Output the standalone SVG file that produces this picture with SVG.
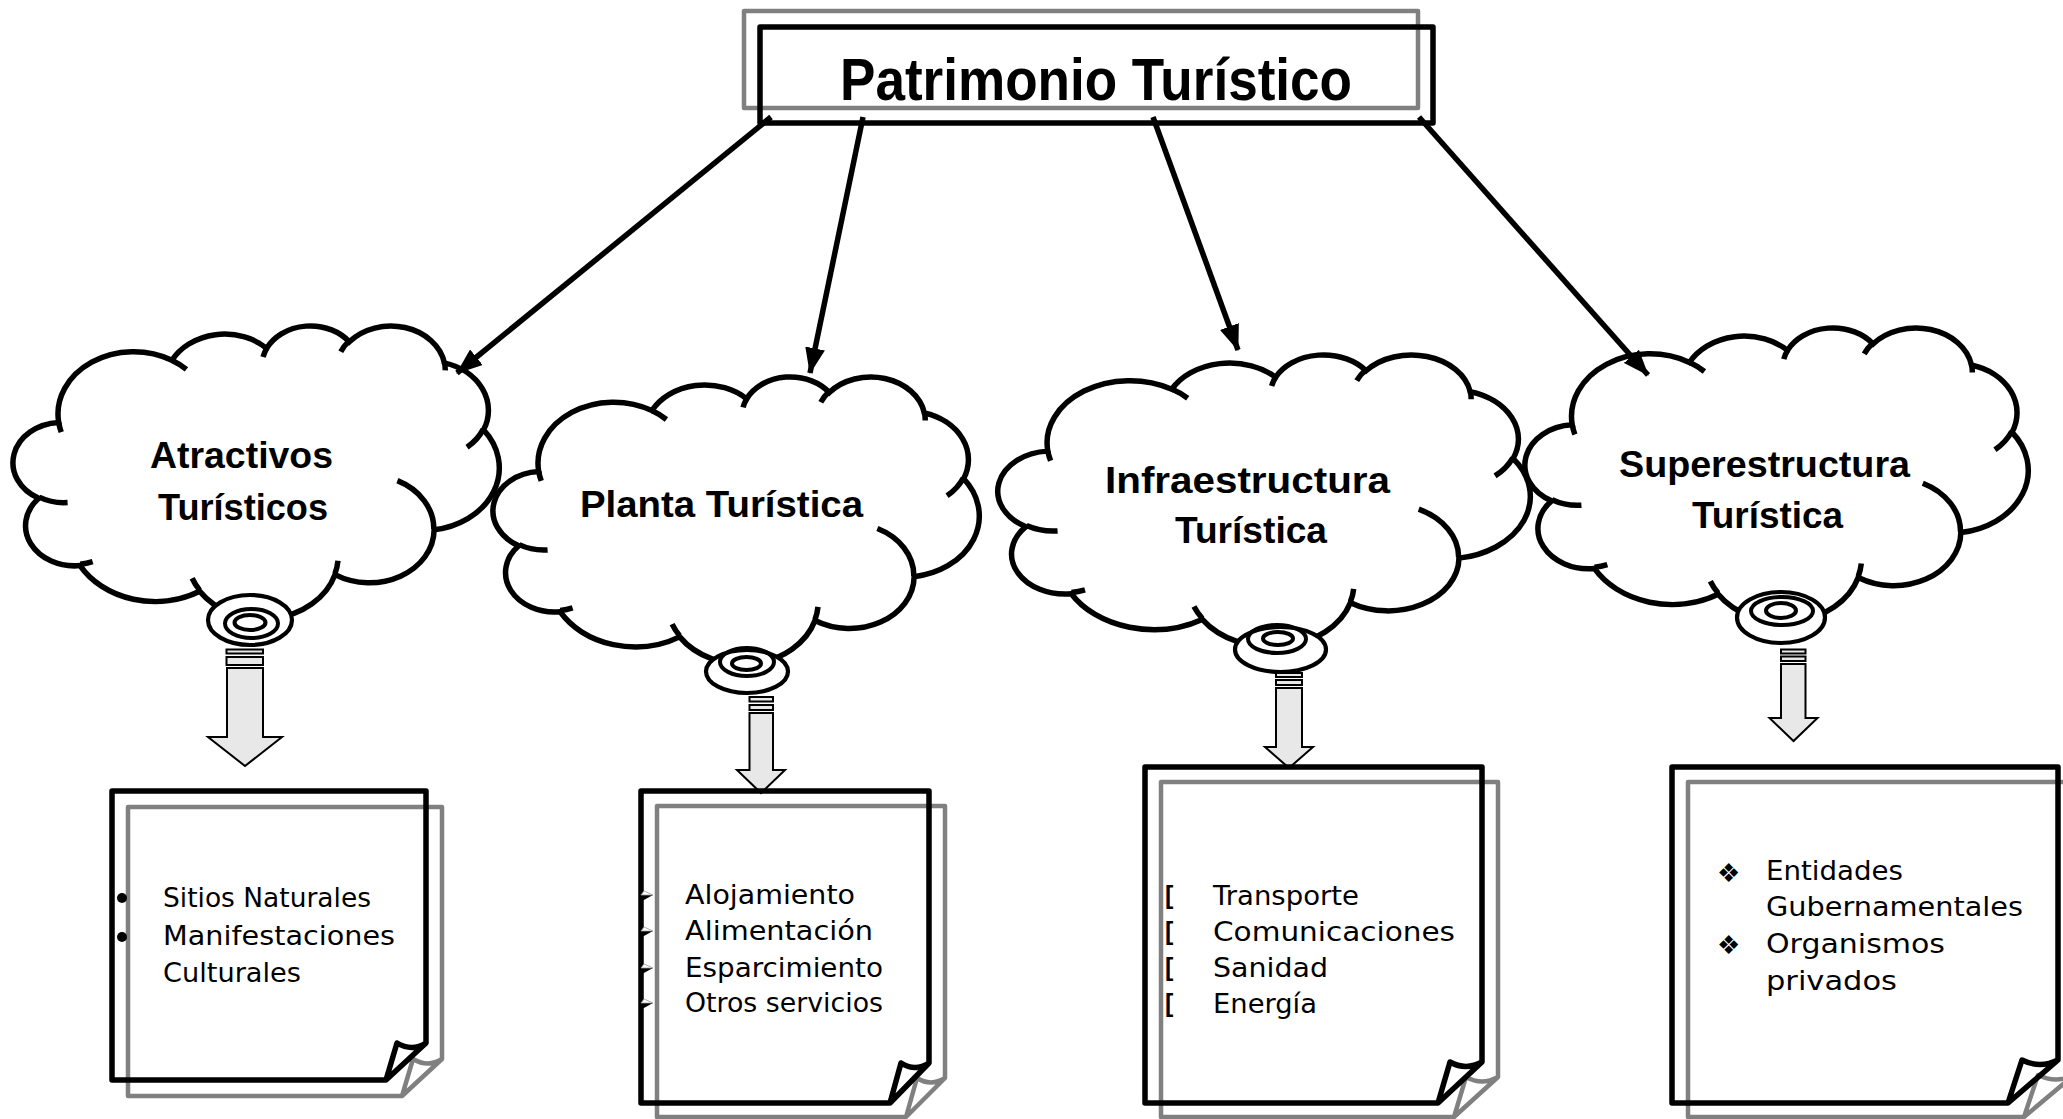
<svg xmlns="http://www.w3.org/2000/svg" width="2063" height="1119" viewBox="0 0 2063 1119">
<style>
  .bg{fill:#ffffff}
  .cloud{fill:#ffffff;stroke:#000;stroke-width:5.5}
  .cloudin{fill:none;stroke:#000;stroke-width:5.5}
  .ring{fill:#ffffff;stroke:#000;stroke-width:4.2}
  .ringin{fill:none;stroke:#000;stroke-width:4}
  .blk{fill:none;stroke:#000;stroke-width:5.5;stroke-linejoin:round}
  .gry{fill:none;stroke:#808080;stroke-width:4.5;stroke-linejoin:round}
  .conn{stroke:#000;stroke-width:5.5;fill:none}
  .barrow{fill:#e8e8e8;stroke:#000;stroke-width:2;stroke-linejoin:miter}
  .title{font-family:"Liberation Sans",Arial,sans-serif;font-weight:bold;font-size:60px;fill:#000}
  .ctext{font-family:"Liberation Sans",Arial,sans-serif;font-weight:bold;font-size:36px;fill:#000}
  .body{font-family:"DejaVu Sans","Liberation Sans",sans-serif;font-size:26px;fill:#000}
  .brk{font-family:"Liberation Sans",Arial,sans-serif;font-weight:bold;font-size:25px;fill:#000}
  .dia{font-family:"DejaVu Sans",sans-serif;font-size:26px;fill:#000}
</style>
<defs>
  <marker id="ah" markerUnits="userSpaceOnUse" markerWidth="26" markerHeight="20" refX="25" refY="10" orient="auto">
    <path d="M0,0 L26,10 L0,20 Z" fill="#000"/>
  </marker>
</defs>
<rect class="bg" x="0" y="0" width="2063" height="1119"/>

<g id="title">
  <rect class="gry" x="744" y="11" width="674" height="97"/>
  <rect class="blk" x="760" y="27" width="673" height="96"/>
  <text class="title" x="840" y="100" textLength="512" lengthAdjust="spacingAndGlyphs">Patrimonio Turístico</text>
</g>

<g id="cloud-atractivos">
  <g transform="translate(15,325) scale(1.1204,0.6782)">
    <path class="cloud" vector-effect="non-scaling-stroke" d="M39,143.7 A67.53,91.9 0 0 1 140.06,52.03 A53.33,72.67 0 0 1 224.6,34.32 A43.65,59.45 0 0 1 298.38,24.81 A48.57,65.95 0 0 1 383.24,55.76 A53.33,72.73 0 0 1 418.24,154.6 A67.75,92.2 0 0 1 374.09,302.01 A57.85,78.67 0 0 1 285.6,368.11 A67.52,92.15 0 0 1 164.85,392.65 A77.2,105.43 0 0 1 58.09,354.74 A43.6,59.18 0 0 1 21.19,255.51 A43.45,59.45 0 0 1 39,143.7 Z"/>
    <path class="cloudin" vector-effect="non-scaling-stroke" d="M46.93,261.77 A43.45,59.45 0 0 1 21.6,253.8 M69.28,348.99 A43.6,59.18 0 0 1 58.19,352.81 M164.78,390.9 A67.52,92.15 0 0 1 158.09,373.47 M288.27,347.51 A67.52,92.15 0 0 1 285.61,366.59 M341.29,229.54 A57.85,78.67 0 0 1 373.81,300.9 M417.98,153.54 A53.33,72.73 0 0 1 403.49,180.31 M383.24,54.26 A48.57,65.95 0 0 1 384,66.9 M290.78,39.52 A48.57,65.95 0 0 1 298.2,23.39 M221.41,47.2 A43.65,59.45 0 0 1 225,33.3 M140,51.92 A67.53,91.9 0 0 1 153,65.42 M41.27,157.89 A67.53,91.9 0 0 1 39,143.72"/>
  </g>
  <ellipse class="ring" cx="250" cy="620" rx="42" ry="25"/>
  <ellipse class="ringin" cx="251.5" cy="623.5" rx="26.5" ry="14.5"/>
  <ellipse class="ringin" cx="250" cy="622.5" rx="15.5" ry="7.5"/>
  <text class="ctext" x="150" y="468" textLength="183" lengthAdjust="spacingAndGlyphs">Atractivos</text>
  <text class="ctext" x="158" y="520" textLength="170" lengthAdjust="spacingAndGlyphs">Turísticos</text>
</g>

<g id="cloud-planta">
  <g transform="translate(495,376) scale(1.1204,0.6644)">
    <path class="cloud" vector-effect="non-scaling-stroke" d="M39,143.7 A67.53,91.9 0 0 1 140.06,52.03 A53.33,72.67 0 0 1 224.6,34.32 A43.65,59.45 0 0 1 298.38,24.81 A48.57,65.95 0 0 1 383.24,55.76 A53.33,72.73 0 0 1 418.24,154.6 A67.75,92.2 0 0 1 374.09,302.01 A57.85,78.67 0 0 1 285.6,368.11 A67.52,92.15 0 0 1 164.85,392.65 A77.2,105.43 0 0 1 58.09,354.74 A43.6,59.18 0 0 1 21.19,255.51 A43.45,59.45 0 0 1 39,143.7 Z"/>
    <path class="cloudin" vector-effect="non-scaling-stroke" d="M46.93,261.77 A43.45,59.45 0 0 1 21.6,253.8 M69.28,348.99 A43.6,59.18 0 0 1 58.19,352.81 M164.78,390.9 A67.52,92.15 0 0 1 158.09,373.47 M288.27,347.51 A67.52,92.15 0 0 1 285.61,366.59 M341.29,229.54 A57.85,78.67 0 0 1 373.81,300.9 M417.98,153.54 A53.33,72.73 0 0 1 403.49,180.31 M383.24,54.26 A48.57,65.95 0 0 1 384,66.9 M290.78,39.52 A48.57,65.95 0 0 1 298.2,23.39 M221.41,47.2 A43.65,59.45 0 0 1 225,33.3 M140,51.92 A67.53,91.9 0 0 1 153,65.42 M41.27,157.89 A67.53,91.9 0 0 1 39,143.72"/>
  </g>
  <ellipse class="ring" cx="747" cy="671.5" rx="41" ry="21.5"/>
  <ellipse class="ringin" cx="747" cy="662" rx="27" ry="14"/>
  <ellipse class="ringin" cx="746.5" cy="663.5" rx="14.5" ry="6.5"/>
  <text class="ctext" x="580" y="517" textLength="283" lengthAdjust="spacingAndGlyphs">Planta Turística</text>
</g>

<g id="cloud-infra">
  <g transform="translate(1000,354) scale(1.2269,0.6759)">
    <path class="cloud" vector-effect="non-scaling-stroke" d="M39,143.7 A67.53,91.9 0 0 1 140.06,52.03 A53.33,72.67 0 0 1 224.6,34.32 A43.65,59.45 0 0 1 298.38,24.81 A48.57,65.95 0 0 1 383.24,55.76 A53.33,72.73 0 0 1 418.24,154.6 A67.75,92.2 0 0 1 374.09,302.01 A57.85,78.67 0 0 1 285.6,368.11 A67.52,92.15 0 0 1 164.85,392.65 A77.2,105.43 0 0 1 58.09,354.74 A43.6,59.18 0 0 1 21.19,255.51 A43.45,59.45 0 0 1 39,143.7 Z"/>
    <path class="cloudin" vector-effect="non-scaling-stroke" d="M46.93,261.77 A43.45,59.45 0 0 1 21.6,253.8 M69.28,348.99 A43.6,59.18 0 0 1 58.19,352.81 M164.78,390.9 A67.52,92.15 0 0 1 158.09,373.47 M288.27,347.51 A67.52,92.15 0 0 1 285.61,366.59 M341.29,229.54 A57.85,78.67 0 0 1 373.81,300.9 M417.98,153.54 A53.33,72.73 0 0 1 403.49,180.31 M383.24,54.26 A48.57,65.95 0 0 1 384,66.9 M290.78,39.52 A48.57,65.95 0 0 1 298.2,23.39 M221.41,47.2 A43.65,59.45 0 0 1 225,33.3 M140,51.92 A67.53,91.9 0 0 1 153,65.42 M41.27,157.89 A67.53,91.9 0 0 1 39,143.72"/>
  </g>
  <ellipse class="ring" cx="1280.5" cy="649.5" rx="45.5" ry="22.5"/>
  <ellipse class="ringin" cx="1277" cy="639" rx="29" ry="14"/>
  <ellipse class="ringin" cx="1278" cy="638.5" rx="15" ry="6.5"/>
  <text class="ctext" x="1105" y="493" textLength="285" lengthAdjust="spacingAndGlyphs">Infraestructura</text>
  <text class="ctext" x="1175" y="543" textLength="152" lengthAdjust="spacingAndGlyphs">Turística</text>
</g>

<g id="cloud-super">
  <g transform="translate(1527,327) scale(1.1597,0.6806)">
    <path class="cloud" vector-effect="non-scaling-stroke" d="M39,143.7 A67.53,91.9 0 0 1 140.06,52.03 A53.33,72.67 0 0 1 224.6,34.32 A43.65,59.45 0 0 1 298.38,24.81 A48.57,65.95 0 0 1 383.24,55.76 A53.33,72.73 0 0 1 418.24,154.6 A67.75,92.2 0 0 1 374.09,302.01 A57.85,78.67 0 0 1 285.6,368.11 A67.52,92.15 0 0 1 164.85,392.65 A77.2,105.43 0 0 1 58.09,354.74 A43.6,59.18 0 0 1 21.19,255.51 A43.45,59.45 0 0 1 39,143.7 Z"/>
    <path class="cloudin" vector-effect="non-scaling-stroke" d="M46.93,261.77 A43.45,59.45 0 0 1 21.6,253.8 M69.28,348.99 A43.6,59.18 0 0 1 58.19,352.81 M164.78,390.9 A67.52,92.15 0 0 1 158.09,373.47 M288.27,347.51 A67.52,92.15 0 0 1 285.61,366.59 M341.29,229.54 A57.85,78.67 0 0 1 373.81,300.9 M417.98,153.54 A53.33,72.73 0 0 1 403.49,180.31 M383.24,54.26 A48.57,65.95 0 0 1 384,66.9 M290.78,39.52 A48.57,65.95 0 0 1 298.2,23.39 M221.41,47.2 A43.65,59.45 0 0 1 225,33.3 M140,51.92 A67.53,91.9 0 0 1 153,65.42 M41.27,157.89 A67.53,91.9 0 0 1 39,143.72"/>
  </g>
  <ellipse class="ring" cx="1781" cy="617.5" rx="44" ry="25.5"/>
  <ellipse class="ringin" cx="1782" cy="611" rx="31" ry="14"/>
  <ellipse class="ringin" cx="1781" cy="610.5" rx="15" ry="7.5"/>
  <text class="ctext" x="1619" y="477" textLength="291" lengthAdjust="spacingAndGlyphs">Superestructura</text>
  <text class="ctext" x="1692" y="528" textLength="151" lengthAdjust="spacingAndGlyphs">Turística</text>
</g>

<g id="connectors">
  <line class="conn" x1="771" y1="117" x2="457" y2="373" marker-end="url(#ah)"/>
  <line class="conn" x1="863" y1="117" x2="810" y2="373" marker-end="url(#ah)"/>
  <line class="conn" x1="1153" y1="117" x2="1238" y2="350" marker-end="url(#ah)"/>
  <line class="conn" x1="1419" y1="117" x2="1648" y2="375" marker-end="url(#ah)"/>
  <g id="down-arrow-1">
    <rect class="barrow" x="226.5" y="649.5" width="36.5" height="4"/>
    <rect class="barrow" x="226.5" y="657" width="36.5" height="8"/>
    <path class="barrow" d="M227,668 H263 V737 H282 L245,766 L208,737 H227 Z"/>
  </g>
  <g id="down-arrow-2">
    <rect class="barrow" x="749.5" y="697" width="23.5" height="4.5"/>
    <rect class="barrow" x="749.5" y="705" width="23.5" height="5"/>
    <path class="barrow" d="M749.5,713 H773 V770 H785 L761,793 L737,770 H749.5 Z"/>
  </g>
  <g id="down-arrow-3">
    <rect class="barrow" x="1276" y="673" width="26" height="4"/>
    <rect class="barrow" x="1276" y="680" width="26" height="5"/>
    <path class="barrow" d="M1276,688 H1302 V747 H1313 L1289,768 L1265,747 H1276 Z"/>
  </g>
  <g id="down-arrow-4">
    <rect class="barrow" x="1781" y="649.5" width="24.5" height="4"/>
    <rect class="barrow" x="1781" y="656.5" width="24.5" height="4.5"/>
    <path class="barrow" d="M1781,664 H1805.5 V718 H1817.5 L1793.5,741 L1769.5,718 H1781 Z"/>
  </g>
</g>

<g id="note-atractivos">
  <path class="gry" d="M128,807 H442 V1059 L402,1096 H128 Z M402,1096 L413,1059 Q428,1068 442,1059"/>
  <path class="blk" d="M112,791 H426 V1043 L386,1080 H112 Z M386,1080 L397,1043 Q412,1052 426,1043"/>
  <circle cx="122" cy="898" r="5"/>
  <circle cx="122" cy="937" r="5"/>
  <text class="body" x="163" y="907" textLength="208" lengthAdjust="spacingAndGlyphs">Sitios Naturales</text>
  <text class="body" x="163" y="945" textLength="232" lengthAdjust="spacingAndGlyphs">Manifestaciones</text>
  <text class="body" x="163" y="982" textLength="138" lengthAdjust="spacingAndGlyphs">Culturales</text>
</g>

<g id="note-planta">
  <path class="gry" d="M657,806 H945 V1078 L906,1117 H657 Z M906,1117 L917,1078 Q931,1087 945,1078"/>
  <path class="blk" d="M641,791 H929 V1063 L890,1103 H641 Z M890,1103 L901,1063 Q915,1072 929,1063"/>
  <g fill="#000">
    <polygon points="641,895 653,895 642,901"/><polygon points="644,891 653,895 641,895" fill="#fff" stroke="#999" stroke-width="0.8"/>
    <polygon points="641,931 653,931 642,937"/><polygon points="644,927 653,931 641,931" fill="#fff" stroke="#999" stroke-width="0.8"/>
    <polygon points="641,968 653,968 642,974"/><polygon points="644,964 653,968 641,968" fill="#fff" stroke="#999" stroke-width="0.8"/>
    <polygon points="641,1003 653,1003 642,1009"/><polygon points="644,999 653,1003 641,1003" fill="#fff" stroke="#999" stroke-width="0.8"/>
  </g>
  <text class="body" x="685" y="904" textLength="170" lengthAdjust="spacingAndGlyphs">Alojamiento</text>
  <text class="body" x="685" y="940" textLength="188" lengthAdjust="spacingAndGlyphs">Alimentación</text>
  <text class="body" x="685" y="977" textLength="198" lengthAdjust="spacingAndGlyphs">Esparcimiento</text>
  <text class="body" x="685" y="1012" textLength="198" lengthAdjust="spacingAndGlyphs">Otros servicios</text>
</g>

<g id="note-infra">
  <path class="gry" d="M1161,782 H1498 V1077 L1454,1117 H1161 Z M1454,1117 L1466,1077 Q1482,1086 1498,1077"/>
  <path class="blk" d="M1145,767 H1482 V1062 L1438,1103 H1145 Z M1438,1103 L1450,1062 Q1466,1071 1482,1062"/>
  <text class="brk" x="1165" y="904">[</text>
  <text class="brk" x="1165" y="940">[</text>
  <text class="brk" x="1165" y="976">[</text>
  <text class="brk" x="1165" y="1012">[</text>
  <text class="body" x="1213" y="905" textLength="146" lengthAdjust="spacingAndGlyphs">Transporte</text>
  <text class="body" x="1213" y="941" textLength="242" lengthAdjust="spacingAndGlyphs">Comunicaciones</text>
  <text class="body" x="1213" y="977" textLength="115" lengthAdjust="spacingAndGlyphs">Sanidad</text>
  <text class="body" x="1213" y="1013" textLength="104" lengthAdjust="spacingAndGlyphs">Energía</text>
</g>

<g id="note-super">
  <path class="gry" d="M1688,782 H2074 V1075 L2024,1117 H1688 Z M2024,1117 L2038,1075 Q2056,1084 2074,1075"/>
  <path class="blk" d="M1672,767 H2058 V1060 L2008,1103 H1672 Z M2008,1103 L2022,1060 Q2040,1069 2058,1060"/>
  <text class="dia" x="1717" y="882">❖</text>
  <text class="dia" x="1717" y="954">❖</text>
  <text class="body" x="1766" y="880" textLength="137" lengthAdjust="spacingAndGlyphs">Entidades</text>
  <text class="body" x="1766" y="916" textLength="257" lengthAdjust="spacingAndGlyphs">Gubernamentales</text>
  <text class="body" x="1766" y="953" textLength="179" lengthAdjust="spacingAndGlyphs">Organismos</text>
  <text class="body" x="1766" y="990" textLength="131" lengthAdjust="spacingAndGlyphs">privados</text>
</g>
</svg>
